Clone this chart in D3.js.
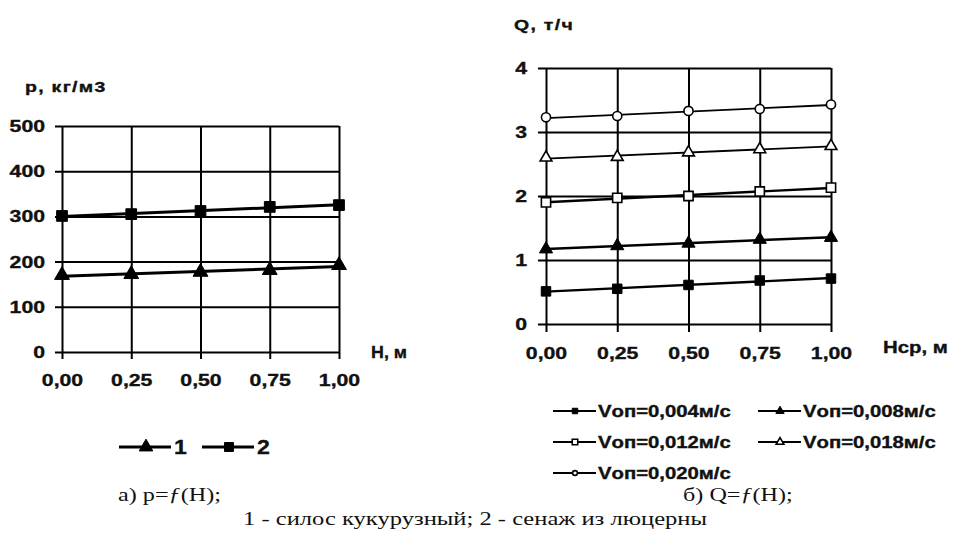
<!DOCTYPE html>
<html>
<head>
<meta charset="utf-8">
<script src="https://cdn.jsdelivr.net/npm/d3@7"></script>
<style>
  html, body { margin: 0; padding: 0; background: #fff; }
  svg { display: block; }
  text { fill: #111; }
  .lab { font-family: "Liberation Sans", Arial, sans-serif; font-weight: bold; stroke: #111; stroke-width: 0.35px; }
  .cap { font-family: "Liberation Serif", "Times New Roman", serif; }
</style>
</head>
<body>
<svg id="chart" width="955" height="555"></svg>
<script>
// ---- data: density p(H) ----
const hValues = [0, 0.25, 0.5, 0.75, 1.0];
const hTickLabels = ["0,00", "0,25", "0,50", "0,75", "1,00"];
const densityTicks = [0, 100, 200, 300, 400, 500];
const densitySilage = [170, 172, 177, 181, 192];   // 1 - силос кукурузный
const densityHaylage = [301, 305, 312, 321, 325];  // 2 - сенаж из люцерны
const densityNames = ["1", "2"];

// ---- data: throughput Q(Hср) ----
const qTicks = [0, 1, 2, 3, 4];
const qV004 = [0.51, 0.55, 0.61, 0.68, 0.71];
const qV008 = [1.17, 1.22, 1.26, 1.32, 1.35];
const qV012 = [1.90, 1.97, 2.00, 2.07, 2.13];
const qV018 = [2.60, 2.61, 2.68, 2.73, 2.78];
const qV020 = [3.23, 3.25, 3.33, 3.36, 3.43];
const qNames = ["Vоп=0,004м/с", "Vоп=0,008м/с", "Vоп=0,012м/с", "Vоп=0,018м/с", "Vоп=0,020м/с"];

const svg = d3.select("#chart");
const SX = 1.25; // horizontal stretch of lettering

function label(g, x, y, str, opts = {}) {
  const sx = opts.sx ?? SX;
  return g.append("text")
    .attr("class", opts.cls || "lab")
    .attr("transform", `translate(${x},${y}) scale(${sx},1)`)
    .attr("text-anchor", opts.anchor || "start")
    .style("font-size", (opts.size || 16) + "px")
    .style("letter-spacing", opts.ls || null)
    .text(str);
}

// least-squares trend line through a series
function trend(xs, ys) {
  const n = xs.length;
  const mx = d3.mean(xs), my = d3.mean(ys);
  let sxy = 0, sxx = 0;
  for (let i = 0; i < n; i++) { sxy += (xs[i] - mx) * (ys[i] - my); sxx += (xs[i] - mx) ** 2; }
  const b = sxy / sxx, a = my - b * mx;
  return x => a + b * x;
}

function shape(kind) {
  if (kind.startsWith("square")) return d3.symbolSquare;
  if (kind.startsWith("triangle")) return d3.symbolTriangle;
  return d3.symbolCircle;
}

function drawMarker(g, cx, cy, kind, size) {
  const open = kind.endsWith("Open");
  g.append("path")
    .attr("d", d3.symbol(shape(kind), size)())
    .attr("transform", `translate(${cx},${cy})`)
    .attr("fill", open ? "#fff" : "#000")
    .attr("stroke", "#000")
    .attr("stroke-width", open ? 1.6 : 1);
}

function panel(cfg) {
  const g = svg.append("g");
  const x = d3.scaleLinear().domain([0, 1]).range(cfg.xRange);
  const y = d3.scaleLinear().domain(cfg.yDomain).range(cfg.yRange);
  const w = cfg.xRange[1] - cfg.xRange[0];
  const h = cfg.yRange[0] - cfg.yRange[1];
  const out = cfg.tickOut;

  // horizontal grid + y labels
  const ya = g.append("g")
    .attr("transform", `translate(${cfg.xRange[0] - out},0)`)
    .call(d3.axisLeft(y).tickValues(cfg.yTicks).tickFormat(d3.format("d"))
      .tickSizeInner(-(w + out)).tickSizeOuter(0).tickPadding(cfg.yPad));
  ya.select(".domain").remove();
  ya.selectAll(".tick line").attr("stroke", "#000").attr("stroke-width", 2);
  ya.selectAll(".tick text").attr("class", "lab").attr("fill", "#111")
    .style("font-size", cfg.tickSize + "px").attr("font-family", null)
    .each(function () {
      const t = d3.select(this);
      t.attr("x", +t.attr("x") / SX).attr("transform", `scale(${SX},1)`);
    });

  // vertical grid + x labels
  const xa = g.append("g")
    .attr("transform", `translate(0,${cfg.yRange[1]})`)
    .call(d3.axisBottom(x).tickValues(hValues).tickFormat((d, i) => hTickLabels[i])
      .tickSizeInner(h + out).tickSizeOuter(0).tickPadding(cfg.xPad));
  xa.select(".domain").remove();
  xa.selectAll(".tick line").attr("stroke", "#000").attr("stroke-width", 2);
  xa.selectAll(".tick text").attr("class", "lab").attr("fill", "#111")
    .style("font-size", cfg.tickSize + "px").attr("font-family", null)
    .attr("transform", `scale(${SX},1)`);

  // series: trend line then markers
  cfg.series.forEach(s => {
    const f = trend(hValues, s.values);
    g.append("path")
      .attr("d", d3.line()([[x(0), y(f(0))], [x(1), y(f(1))]]))
      .attr("fill", "none").attr("stroke", "#000").attr("stroke-width", s.lw);
    s.values.forEach((v, i) => drawMarker(g, x(hValues[i]), y(v), s.kind, s.size));
  });
  return g;
}

// ---- а) p = f(H) ----
const left = panel({
  xRange: [62, 339], yDomain: [0, 500], yRange: [352, 126], yTicks: densityTicks,
  tickOut: 7, yPad: 10, xPad: 15, tickSize: 17,
  series: [
    { values: densitySilage, kind: "triangle", size: 95, lw: 3 },
    { values: densityHaylage, kind: "square", size: 115, lw: 3 }
  ]
});
label(left, 25, 92, "p, кг/м3", { size: 15, sx: 1.3, ls: "1px" });
label(left, 371, 358, "Н, м", { size: 17, sx: 1.05 });

// legend 1 / 2
const legL = svg.append("g");
[[densityNames[0], "triangle", 119], [densityNames[1], "square", 202]].forEach(([name, kind, x0]) => {
  legL.append("line").attr("x1", x0).attr("x2", x0 + 52).attr("y1", 447).attr("y2", 447)
    .attr("stroke", "#000").attr("stroke-width", 3);
  drawMarker(legL, x0 + 27, 447, kind, 80);
  label(legL, x0 + 55, 454, name, { size: 21, sx: 1.1 });
});

// ---- б) Q = f(H) ----
const right = panel({
  xRange: [546, 831], yDomain: [0, 4], yRange: [324, 68], yTicks: qTicks,
  tickOut: 8, yPad: 11, xPad: 15, tickSize: 17,
  series: [
    { values: qV004, kind: "square", size: 90, lw: 2.4 },
    { values: qV008, kind: "triangle", size: 75, lw: 2.4 },
    { values: qV012, kind: "squareOpen", size: 85, lw: 2.4 },
    { values: qV018, kind: "triangleOpen", size: 60, lw: 1.8 },
    { values: qV020, kind: "circleOpen", size: 65, lw: 1.8 }
  ]
});
label(right, 514, 30, "Q, т/ч", { size: 15, sx: 1.3, ls: "1px" });
label(right, 883, 353, "Нср, м", { size: 17, sx: 1.2 });

// legend for Vоп series
const legR = svg.append("g");
const legKinds = ["square", "triangle", "squareOpen", "triangleOpen", "circleOpen"];
const legSizes = [30, 30, 30, 26, 18];
qNames.forEach((name, i) => {
  const col = i % 2, row = Math.floor(i / 2);
  const x0 = col === 0 ? 553 : 758;
  const yy = 411 + row * 31;
  legR.append("line").attr("x1", x0).attr("x2", x0 + 43).attr("y1", yy).attr("y2", yy)
    .attr("stroke", "#000").attr("stroke-width", 2);
  drawMarker(legR, x0 + 22, yy, legKinds[i], legSizes[i]);
  label(legR, x0 + 45, yy + 6, name, { size: 16, sx: 1.27 });
});

// ---- caption ----
const cap = svg.append("g");
function formula(x, lead, fn) {
  const t = cap.append("text").attr("class", "cap")
    .attr("transform", `translate(${x},501) scale(1.24,1)`).style("font-size", "19.5px");
  t.append("tspan").text(lead);
  t.append("tspan").style("font-style", "italic").text(fn);
  t.append("tspan").text("(Н);");
}
formula(118, "а) р=", "ƒ");
formula(683, "б) Q=", "ƒ");
cap.append("text").attr("class", "cap").attr("transform", `translate(475,525) scale(1.26,1)`)
  .attr("text-anchor", "middle").style("font-size", "19.5px")
  .text("1 - силос кукурузный; 2 - сенаж из люцерны");
</script>
</body>
</html>
